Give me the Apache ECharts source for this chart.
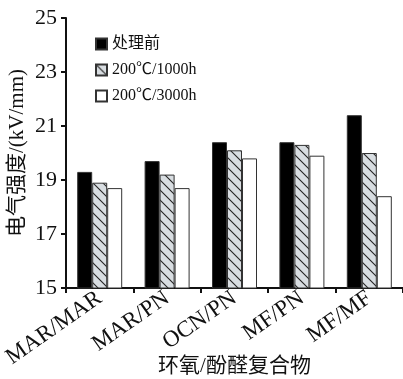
<!DOCTYPE html>
<html><head><meta charset="utf-8">
<script src="https://cdn.jsdelivr.net/npm/echarts@6/dist/echarts.min.js"></script>
<style>html,body{margin:0;padding:0;background:#fff}#c{width:403px;height:379px}</style>
</head><body><div id="c"></div>
<script>
const categories = ['MAR/MAR','MAR/PN','OCN/PN','MF/PN','MF/MF'];
const seriesNames = ['处理前','200℃/1000h','200℃/3000h'];
const before = [19.3, 19.7, 20.4, 20.4, 21.4];
const h1000 = [18.9, 19.2, 20.1, 20.3, 20.0];
const h3000 = [18.7, 18.7, 19.8, 19.9, 18.4];
const yTicks = [15, 17, 19, 21, 23, 25];

const cv = document.createElement('canvas');
cv.width = 10; cv.height = 10;
const g = cv.getContext('2d');
g.fillStyle = '#d8dde1'; g.fillRect(0,0,10,10);
g.strokeStyle = '#222'; g.lineWidth = 1.1;
g.beginPath(); g.moveTo(-1,-1); g.lineTo(11,11); g.stroke();
g.beginPath(); g.moveTo(-1,9); g.lineTo(1,11); g.stroke();
g.beginPath(); g.moveTo(9,-1); g.lineTo(11,1); g.stroke();
const hatch = {image: cv, repeat: 'repeat'};

const serif = '"Liberation Serif","Noto Sans CJK SC",serif';
const chart = echarts.init(document.getElementById('c'));
const mk = (name, data, color) => ({
  name, type: 'bar', data, barWidth: 15, barGap: '0%',
  itemStyle: {color, borderColor: '#333', borderWidth: 1}
});
chart.setOption({
  animation: false,
  textStyle: {fontFamily: serif},
  legend: {
    orient: 'vertical', left: 90, top: 31, itemGap: 10,
    itemWidth: 11, itemHeight: 11, icon: 'rect',
    textStyle: {fontFamily: serif, fontSize: 16, color: '#111'},
    data: seriesNames
  },
  grid: {left: 66, right: 0, top: 18, bottom: 91, containLabel: false, outerBoundsMode: 'none'},
  xAxis: {
    type: 'category', data: categories,
    name: '环氧/酚醛复合物', nameLocation: 'middle', nameGap: 68, nameMoveOverlap: false,
    nameTextStyle: {fontFamily: serif, fontSize: 21, color: '#111'},
    axisLine: {lineStyle: {color: '#111', width: 2}},
    axisTick: {show: true, length: 5, lineStyle: {color: '#111', width: 2}},
    axisLabel: {rotate: 35, fontSize: 23, color: '#111', fontFamily: serif, margin: 8, hideOverlap: false, interval: 0}
  },
  yAxis: {
    type: 'value', min: yTicks[0], max: yTicks[yTicks.length-1], interval: 2,
    name: '电气强度/(kV/mm)', nameLocation: 'middle', nameGap: 38, nameMoveOverlap: false,
    nameTextStyle: {fontFamily: serif, fontSize: 21, color: '#111'},
    axisLine: {show: true, lineStyle: {color: '#111', width: 2}},
    axisTick: {show: true, length: 5, lineStyle: {color: '#111', width: 2}},
    splitLine: {show: false},
    axisLabel: {fontSize: 22, color: '#111', fontFamily: serif, margin: 9}
  },
  series: [mk(seriesNames[0], before, '#000'), mk(seriesNames[1], h1000, hatch), mk(seriesNames[2], h3000, '#fff')]
});
</script></body></html>
